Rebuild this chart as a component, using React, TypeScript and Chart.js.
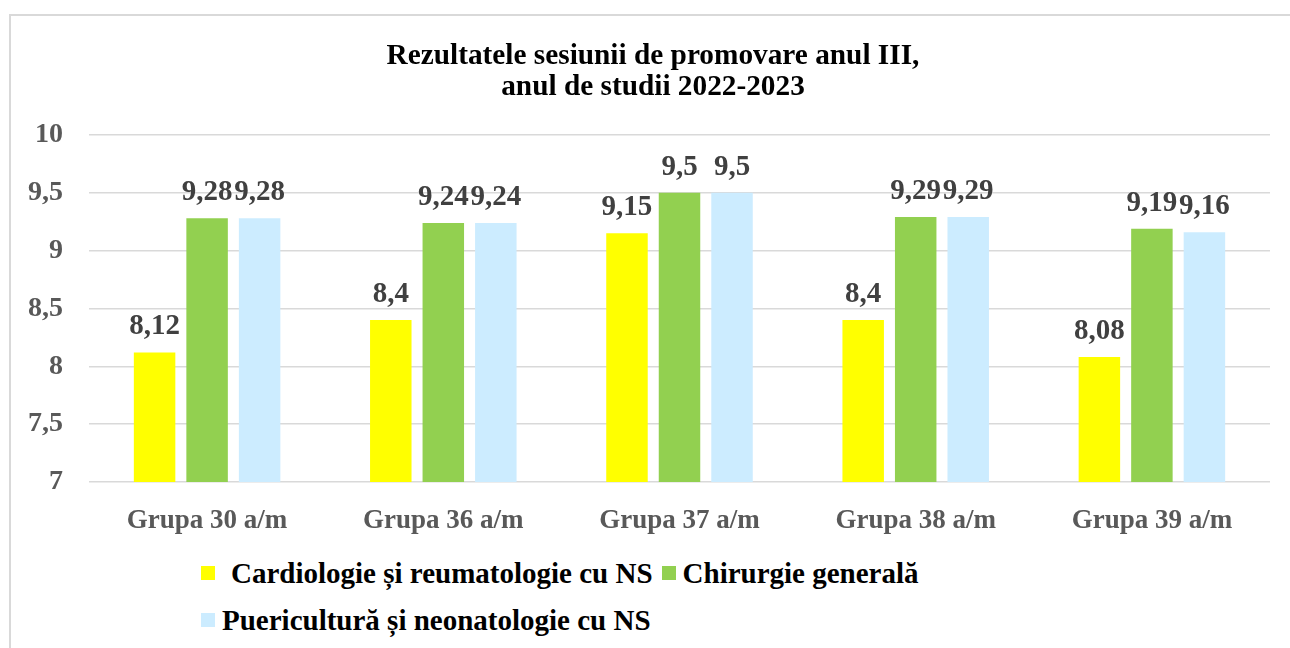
import React, { useEffect, useRef } from "react";
import { Chart, registerables } from "chart.js";

Chart.register(...registerables);

const titleLines = ["Rezultatele sesiunii de promovare anul III,", "anul de studii 2022-2023"];
const categories = ["Grupa 30 a/m", "Grupa 36 a/m", "Grupa 37 a/m", "Grupa 38 a/m", "Grupa 39 a/m"];
const seriesNames = ["Cardiologie și reumatologie cu NS", "Chirurgie generală", "Puericultură și neonatologie cu NS"];
const cardiologie = [8.12, 8.4, 9.15, 8.4, 8.08];
const chirurgie = [9.28, 9.24, 9.5, 9.29, 9.19];
const puericultura = [9.28, 9.24, 9.5, 9.29, 9.16];
const seriesColors = ["#FFFF00", "#92D050", "#CCECFF"];
const yMin = 7;
const yMax = 10;
const yStep = 0.5;

const FONT = "'Liberation Serif', 'Times New Roman', serif";

const fmt = (v: number) => String(v).replace(".", ",");

const dataLabelPlugin = {
  id: "dataLabels",
  afterDatasetsDraw(chart: any) {
    const ctx = chart.ctx;
    ctx.save();
    ctx.font = `bold 29px ${FONT}`;
    ctx.fillStyle = "#404040";
    ctx.textAlign = "center";
    ctx.textBaseline = "alphabetic";
    chart.data.datasets.forEach((ds: any, i: number) => {
      const meta = chart.getDatasetMeta(i);
      meta.data.forEach((bar: any, j: number) => {
        ctx.fillText(fmt(ds.data[j]), bar.x, bar.y - 18);
      });
    });
    ctx.restore();
  },
};

function ChartCanvas() {
  const ref = useRef<HTMLCanvasElement | null>(null);
  useEffect(() => {
    if (!ref.current) return;
    const chart = new Chart(ref.current, {
      type: "bar",
      data: {
        labels: categories,
        datasets: [
          { label: seriesNames[0], data: cardiologie, backgroundColor: seriesColors[0] },
          { label: seriesNames[1], data: chirurgie, backgroundColor: seriesColors[1] },
          { label: seriesNames[2], data: puericultura, backgroundColor: seriesColors[2] },
        ],
      },
      options: {
        responsive: false,
        animation: false,
        devicePixelRatio: 1,
        layout: { padding: { left: 0, right: 20, top: 135, bottom: 0 } },
        datasets: { bar: { categoryPercentage: 0.667, barPercentage: 0.79 } },
        plugins: {
          legend: { display: false },
          tooltip: { enabled: false },
          title: { display: false },
        },
        scales: {
          x: {
            grid: { display: false },
            border: { display: false },
            ticks: {
              color: "#595959",
              font: { family: FONT, size: 27, weight: "bold" },
              padding: 15,
              maxRotation: 0,
            },
            afterFit: (s: any) => {
              s.height = 60;
            },
          },
          y: {
            min: yMin,
            max: yMax,
            border: { display: false },
            grid: { color: "#d9d9d9", lineWidth: 1.5, drawTicks: false },
            ticks: {
              stepSize: yStep,
              color: "#595959",
              font: { family: FONT, size: 28, weight: "bold" },
              padding: 26,
              callback: (v: any) => fmt(Number(v)),
            },
            afterFit: (s: any) => {
              s.width = 89;
            },
          },
        },
      },
      plugins: [dataLabelPlugin],
    } as any);
    return () => chart.destroy();
  }, []);
  return <canvas ref={ref} width={1290} height={542} style={{ position: "absolute", left: 0, top: 0, width: 1290, height: 542 }} />;
}

const legendText: React.CSSProperties = {
  fontFamily: FONT,
  fontWeight: "bold",
  fontSize: 29,
  color: "#000",
  whiteSpace: "pre",
  lineHeight: "34px",
};

function Swatch({ color, mr }: { color: string; mr: number }) {
  return <span style={{ display: "inline-block", width: 14, height: 14, background: color, marginRight: mr, flex: "none" }} />;
}

export default function App() {
  return (
    <div style={{ position: "relative", width: 1290, height: 648, overflow: "hidden", background: "#fff" }}>
      <style>{`body{margin:0;overflow:hidden;background:#fff}`}</style>
      <div
        style={{
          position: "absolute",
          left: 9,
          top: 14,
          width: 1400,
          height: 800,
          borderLeft: "2px solid #d9d9d9",
          borderTop: "2px solid #d9d9d9",
        }}
      />
      <ChartCanvas />
      <div
        style={{
          position: "absolute",
          left: 0,
          top: 39,
          width: 1306,
          textAlign: "center",
          fontFamily: FONT,
          fontWeight: "bold",
          fontSize: 29.3,
          lineHeight: "31px",
          color: "#000",
        }}
      >
        {titleLines.map((t, i) => (
          <div key={i}>{t}</div>
        ))}
      </div>
      <div style={{ position: "absolute", left: 201, top: 556, display: "flex", alignItems: "center", ...legendText }}>
        <Swatch color={seriesColors[0]} mr={16} />
        <span>{seriesNames[0]}</span>
        <span style={{ width: 9 }} />
        <Swatch color={seriesColors[1]} mr={7} />
        <span>{seriesNames[1]}</span>
      </div>
      <div style={{ position: "absolute", left: 201, top: 603, display: "flex", alignItems: "center", ...legendText }}>
        <Swatch color={seriesColors[2]} mr={7} />
        <span>{seriesNames[2]}</span>
      </div>
    </div>
  );
}
